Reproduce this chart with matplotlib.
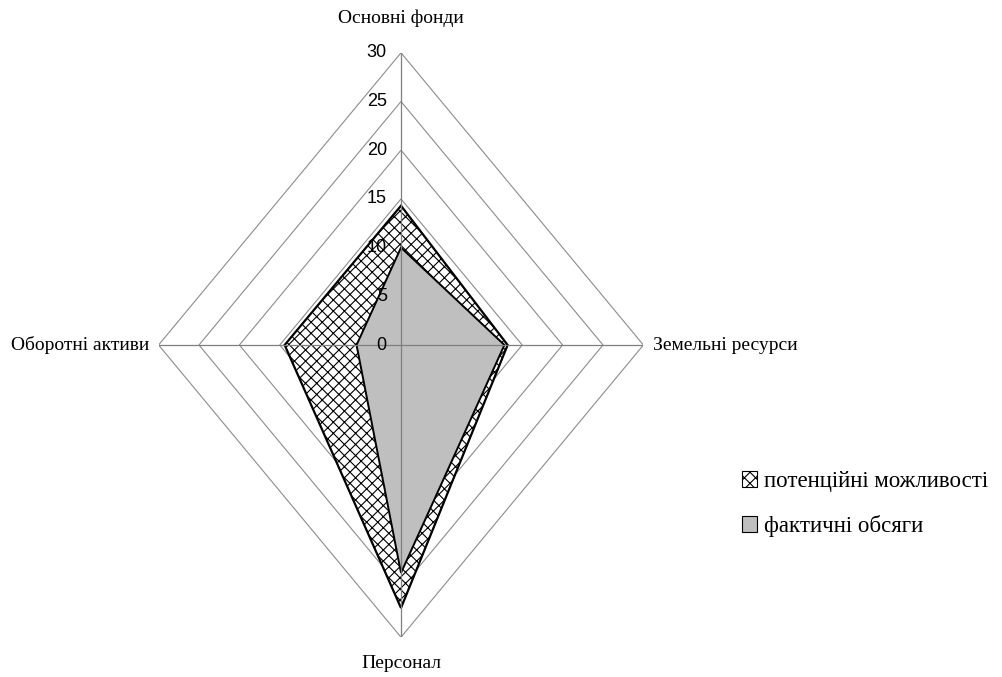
import numpy as np
import matplotlib
matplotlib.use("Agg")
import matplotlib.pyplot as plt
from matplotlib.patches import Polygon, Patch

# Категорії (за годинниковою стрілкою від верху)
categories = ["Основні фонди", "Земельні ресурси", "Персонал", "Оборотні активи"]
potential = [14.3, 13.2, 27.0, 14.4]   # потенційні можливості
actual = [10.0, 12.8, 23.4, 5.5]       # фактичні обсяги
levels = [5, 10, 15, 20, 25, 30]
tick_values = [0, 5, 10, 15, 20, 25, 30]
series_labels = ["потенційні можливості", "фактичні обсяги"]

plt.rcParams["hatch.linewidth"] = 0.8

angles = np.deg2rad([0, 90, 180, 270])
dx = np.sin(angles)
dy = np.cos(angles)


def points(values):
    v = np.asarray(values, dtype=float)
    return np.column_stack([v * dx, v * dy])


fig = plt.figure(figsize=(10.02, 6.77), dpi=100)
ax = fig.add_axes([158.6 / 1002, (677 - 637.2) / 677, 484.8 / 1002, 584.4 / 677])
ax.set_xlim(-30, 30)
ax.set_ylim(-30, 30)
ax.axis("off")

# сітка
for lev in levels:
    ax.add_patch(Polygon(points([lev] * 4), closed=True, fill=False,
                         edgecolor="#8c8c8c", linewidth=0.8, zorder=1))

# ряди
ax.add_patch(Polygon(points(potential), closed=True, facecolor="white",
                     edgecolor="black", hatch="xxx", linewidth=1.6, zorder=2))
ax.add_patch(Polygon(points(actual), closed=True, facecolor="#bfbfbf",
                     edgecolor="black", linewidth=1.4, zorder=3))

# осі
for x, y in zip(dx, dy):
    ax.plot([0, 30 * x], [0, 30 * y], color="#7f7f7f", linewidth=0.9, zorder=4)

# підписи шкали
for t in tick_values:
    ax.text(-1.75, t, str(t), ha="right", va="center", fontsize=13,
            family="Liberation Sans", zorder=5)

# назви категорій
serif = "Liberation Serif"
ax.text(0, 33.5, categories[0], ha="center", va="center", fontsize=14, family=serif)
ax.text(31.2, 0, categories[1], ha="left", va="center", fontsize=14, family=serif)
ax.text(0, -32.7, categories[2], ha="center", va="center", fontsize=14, family=serif)
ax.text(-31.1, 0, categories[3], ha="right", va="center", fontsize=14, family=serif)

handles = [Patch(facecolor="white", edgecolor="black", hatch="xxx", linewidth=0.8),
           Patch(facecolor="#bfbfbf", edgecolor="black", linewidth=0.8)]
fig.legend(handles, series_labels, loc="upper left",
           bbox_to_anchor=(733 / 1002, 1 - 462 / 677), frameon=False,
           prop={"family": serif, "size": 16.5}, handlelength=0.65, handleheight=0.65,
           handletextpad=0.3, labelspacing=1.0, borderaxespad=0)

fig.savefig("out.png", dpi=100, facecolor="white")
